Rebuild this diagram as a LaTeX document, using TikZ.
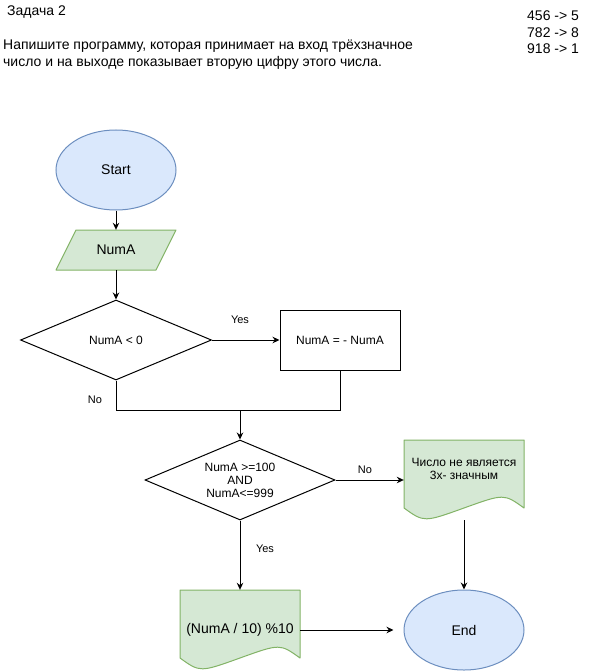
\documentclass[tikz,border=0pt]{standalone}
\usepackage{fontspec}
\setmainfont{Liberation Sans}
\usetikzlibrary{shapes.geometric,arrows.meta}
\definecolor{bluefill}{HTML}{DAE8FC}
\definecolor{bluestroke}{HTML}{6C8EBF}
\definecolor{greenfill}{HTML}{D5E8D4}
\definecolor{greenstroke}{HTML}{82B366}
\tikzset{
  px/.style={x=1pt,y=-1pt},
  t14/.style={font=\fontsize{14}{16.5}\selectfont},
  t12/.style={font=\fontsize{12}{13}\selectfont},
  t11/.style={font=\fontsize{11}{13}\selectfont},
  terminal/.style={ellipse,draw=bluestroke,fill=bluefill,line width=1pt,
    minimum width=120pt,minimum height=80pt,inner sep=0pt,t14},
  decision/.style={diamond,draw=black,line width=1pt,inner sep=0pt,t12,align=center},
  process/.style={rectangle,draw=black,line width=1pt,minimum width=120pt,
    minimum height=60pt,inner sep=0pt,t12},
  frame/.style={rectangle,inner sep=0pt},
  greenshape/.style={draw=greenstroke,fill=greenfill,line width=1pt,line join=round},
  flow/.style={line width=1pt,-{Stealth[length=7pt,width=6.5pt]}},
  plain/.style={line width=1pt},
  edgelabel/.style={t11,inner sep=0pt}
}
\begin{document}
\begin{tikzpicture}[px]
\useasboundingbox (0,0) rectangle (595,671);

% task statement
\node[t14,anchor=west,inner sep=0pt] (title) at (7,12) {Задача 2};
\node[t14,anchor=west,inner sep=0pt,align=left] (task) at (3,54.5)
  {Напишите программу, которая принимает на вход трёхзначное\\
   число и на выходе показывает вторую цифру этого числа.};
\node[t14,anchor=west,inner sep=0pt,align=left] (examples) at (527,32.5)
  {456 -> 5\\782 -> 8\\918 -> 1};

% start
\node[terminal] (start) at (116,170) {Start};

% input parallelogram
\path[greenshape] (76,230) -- (176,230) -- (156,270) -- (56,270) -- cycle;
\node[frame,minimum width=120pt,minimum height=40pt,t14] (numa) at (116,250) {NumA};

% first decision and negation
\node[decision,minimum width=191pt,minimum height=80pt] (d1) at (116,340) {NumA < 0};
\node[process] (neg) at (340,340) {NumA = - NumA};

% second decision (outline sized explicitly, text set on top)
\node[decision,minimum width=190pt,minimum height=80pt] (d2) at (240,480) {};
\node[t12,align=center,inner sep=0pt] (d2text) at (240,480)
  {NumA >=100\\AND\\NumA<=999};

% document: not a three-digit number
\path[greenshape] (404,440) -- (524,440) -- (524,508)
  .. controls (504,493.6) .. (464,508)
  .. controls (424,522.4) .. (404,508) -- cycle;
\node[frame,minimum width=120pt,minimum height=80pt] (doc1) at (464,480) {};
\node[t12,align=center,inner sep=0pt] (doc1text) at (464,468.5)
  {Число не является\\3х- значным};

% document: result
\path[greenshape] (180,590) -- (300,590) -- (300,658)
  .. controls (280,643.6) .. (240,658)
  .. controls (200,672.4) .. (180,658) -- cycle;
\node[frame,minimum width=120pt,minimum height=80pt,t14] (doc2) at (240,630)
  {(NumA / 10) \%10};

% end
\node[terminal] (end) at (464,630) {End};

% connectors
\coordinate (join) at (240,410);
\draw[flow] (start) -- (numa);
\draw[flow] (numa) -- (d1);
\draw[flow] (d1.east) -- (neg.west);
\draw[plain] (d1.south) |- (join);
\draw[plain] (neg.south) |- (join);
\draw[flow] (join) -- (d2.north);
\draw[flow] (d2.east) -- (doc1.west);
\draw[flow] (d2.south) -- (doc2.north);
\draw[flow] (doc1.south) -- (end.north);
\draw[flow,shorten >=10pt] (doc2.east) -- (end.west);

% branch labels
\node[edgelabel] (yes1) at (240,320) {Yes};
\node[edgelabel] (no1) at (95,400) {No};
\node[edgelabel] (no2) at (365,470) {No};
\node[edgelabel] (yes2) at (265,549) {Yes};
\end{tikzpicture}
\end{document}
